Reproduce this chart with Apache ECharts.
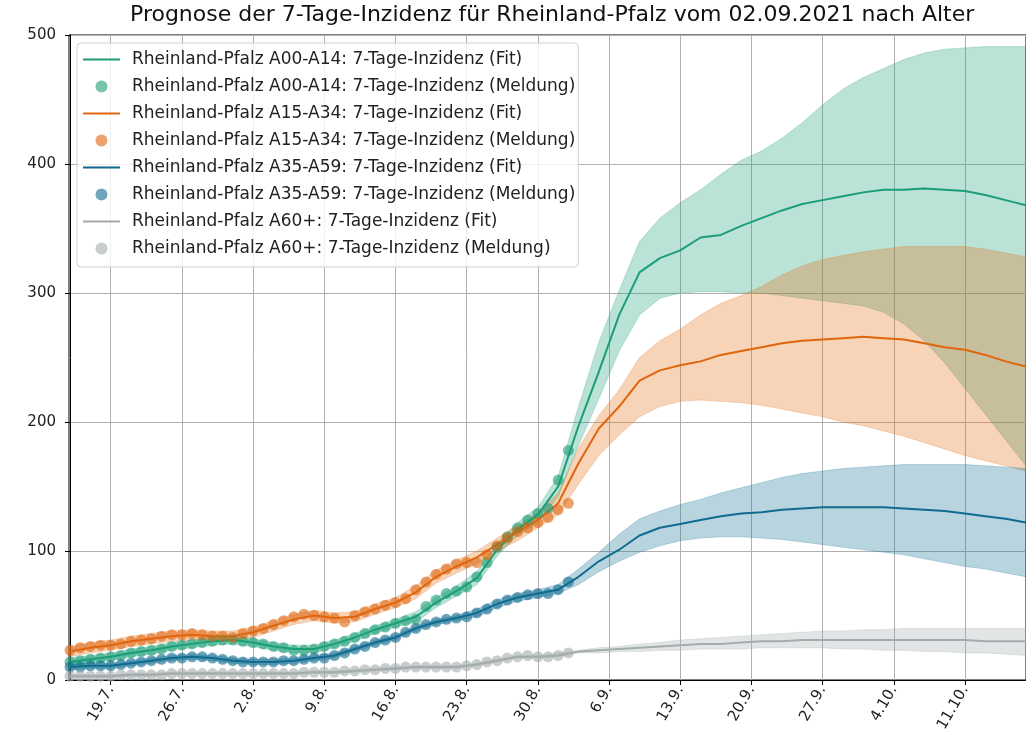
<!DOCTYPE html>
<html>
<head>
<meta charset="utf-8">
<title>Prognose 7-Tage-Inzidenz Rheinland-Pfalz</title>
<script src="https://cdn.jsdelivr.net/npm/echarts@6/dist/echarts.min.js"></script>
<style>
  html, body { margin: 0; padding: 0; background: #fff; }
  #main { width: 1026px; height: 752px; }
</style>
</head>
<body>
<div id="main"></div>
<script>
// x = Tage seit 15.7.2021
var tickDays = [4, 11, 18, 25, 32, 39, 46, 53, 60, 67, 74, 81, 88];
var tickLabels = ['19.7.', '26.7.', '2.8.', '9.8.', '16.8.', '23.8.', '30.8.', '6.9.', '13.9.', '20.9.', '27.9.', '4.10.', '11.10.'];

// Meldetage (15.7. - 2.9.)
var obsDays = [0,1,2,3,4,5,6,7,8,9,10,11,12,13,14,15,16,17,18,19,20,21,22,23,24,25,26,27,28,29,30,31,32,33,34,35,36,37,38,39,40,41,42,43,44,45,46,47,48,49];
// Fit / Prognose
var fitDays = [0,2,4,6,8,10,12,14,16,18,20,22,24,26,28,30,32,34,36,38,40,42,44,46,48,50,52,54,56,58,60,62,64,66,68,70,72,74,76,78,80,82,84,86,88,90,92,94];

// A00-A14
var a00Obs = [14,15,16,17,18,19,21,22,23,24,26,27,28,29,30,31,31,30,29,28,26,25,23,23,24,26,28,30,33,36,39,41,44,46,47,57,62,67,69,72,80,91,103,111,118,124,129,133,155,178];
var a00Fit = [14,16,18,21,23,26,28,30,31,29,26,24,24,28,33,39,44,49,60,69,79,101,117,128,150,197,239,283,316,327,333,343,345,352,358,364,369,372,375,378,380,380,381,380,379,376,372,368];
var a00Hi  = [17,19,21,24,26,29,31,33,34,32,29,27,27,31,36,42,47,53,64,73,84,106,122,134,158,212,262,302,340,358,370,380,392,403,410,420,432,446,458,467,474,481,486,489,490,491,491,491];
var a00Lo  = [11,13,15,18,20,23,25,27,28,26,23,21,21,25,30,36,41,45,56,65,74,96,112,122,142,182,218,255,283,296,300,301,301,300,300,298,296,294,292,290,285,276,263,246,226,206,186,166];

// A15-A34
var a15Obs = [23,25,26,27,27,28,30,31,32,34,35,35,36,35,34,34,33,36,38,40,43,46,49,51,50,49,48,45,50,53,55,58,60,63,70,76,82,86,90,91,91,97,104,110,115,118,122,126,132,137];
var a15Fit = [22,25,27,30,32,34,35,34,34,37,42,47,50,48,49,55,60,68,80,88,95,105,115,124,137,168,195,212,232,240,244,247,252,255,258,261,263,264,265,266,265,264,261,258,256,252,247,243];
var a15Hi  = [26,29,31,34,36,38,39,38,38,41,46,51,54,52,53,59,64,73,85,93,100,110,120,130,145,180,205,225,250,263,272,283,292,298,305,314,321,326,329,332,334,336,336,336,336,334,331,328];
var a15Lo  = [18,21,23,26,28,30,31,30,30,33,38,43,46,44,45,51,56,63,75,83,90,100,108,118,128,152,174,190,204,212,216,217,216,215,213,210,207,204,200,197,193,189,184,179,174,170,166,162];

// A35-A59
var a35Obs = [10,10,11,11,11,12,13,14,15,16,17,17,18,18,17,16,15,14,14,14,14,15,15,16,17,17,19,21,24,26,29,31,33,37,40,43,45,47,48,49,52,55,59,62,64,66,67,67,70,76];
var a35Fit = [10,11,11,13,15,17,18,17,15,14,14,15,17,19,24,29,33,40,45,48,52,59,64,67,70,80,92,101,112,118,121,124,127,129,130,132,133,134,134,134,134,133,132,131,129,127,125,122];
var a35Hi  = [12,13,13,15,17,19,20,19,17,16,16,17,19,21,26,31,35,42,47,50,55,62,67,70,74,86,99,113,125,131,136,140,145,149,153,157,160,162,164,165,166,167,167,167,167,166,165,164];
var a35Lo  = [8,9,9,11,13,15,16,15,13,12,12,13,15,17,22,27,31,38,43,46,49,56,61,64,67,74,84,92,99,104,108,110,111,111,110,109,107,105,103,101,99,97,94,91,88,86,83,80];

// A60+
var a60Obs = [3,3,3,3,3,4,4,4,4,4,5,5,5,5,5,5,5,5,5,5,5,5,5,6,6,6,6,7,7,8,8,9,9,10,10,10,10,10,10,11,12,14,15,17,18,19,18,18,19,21];
var a60Fit = [3,3,3,4,4,5,5,5,5,5,5,5,6,6,7,8,9,10,10,10,12,15,18,18,19,22,23,24,25,26,27,28,28,29,30,30,31,31,31,31,31,31,31,31,31,30,30,30];
var a60Hi  = [4,4,4,5,5,6,6,6,6,6,6,6,7,7,8,9,10,11,11,11,13,16,19,19,21,23,25,26,28,29,31,32,33,34,35,36,37,38,38,39,39,40,40,40,40,40,40,40];
var a60Lo  = [2,2,2,3,3,4,4,4,4,4,4,4,5,5,6,7,8,9,9,9,11,14,17,17,18,21,21,22,22,23,23,24,24,24,25,25,25,25,24,24,23,23,22,22,21,21,20,19];

var groups = [
  { label: 'Rheinland-Pfalz A00-A14', color: '#1b9e77', band: '27,158,119', obs: a00Obs, fit: a00Fit, hi: a00Hi, lo: a00Lo },
  { label: 'Rheinland-Pfalz A15-A34', color: '#e0650d', band: '230,110,20', obs: a15Obs, fit: a15Fit, hi: a15Hi, lo: a15Lo },
  { label: 'Rheinland-Pfalz A35-A59', color: '#0f6b8f', band: '20,115,150', obs: a35Obs, fit: a35Fit, hi: a35Hi, lo: a35Lo },
  { label: 'Rheinland-Pfalz A60+',    color: '#a3abac', band: '160,168,168', obs: a60Obs, fit: a60Fit, hi: a60Hi, lo: a60Lo }
];

function pairs(xs, ys) {
  return xs.map(function (x, i) { return [x, ys[i]]; });
}

var lineIcon = 'path://M0,0H37V2H0Z';
var series = [];
var legendData = [];
groups.forEach(function (g) {
  series.push({
    type: 'custom',
    silent: true,
    clip: true,
    z: 1,
    data: [[0, 0]],
    renderItem: function (params, api) {
      var pts = [];
      for (var i = 0; i < fitDays.length; i++) pts.push(api.coord([fitDays[i], g.hi[i]]));
      for (var j = fitDays.length - 1; j >= 0; j--) pts.push(api.coord([fitDays[j], g.lo[j]]));
      return {
        type: 'polygon',
        shape: { points: pts },
        style: { fill: 'rgba(' + g.band + ',0.3)', stroke: 'rgba(' + g.band + ',0.25)', lineWidth: 1 }
      };
    }
  });
  var fitName = g.label + ': 7-Tage-Inzidenz (Fit)';
  var obsName = g.label + ': 7-Tage-Inzidenz (Meldung)';
  series.push({
    name: fitName,
    type: 'line',
    z: 2,
    symbol: 'none',
    data: pairs(fitDays, g.fit),
    lineStyle: { color: g.color, width: 2 },
    itemStyle: { color: g.color }
  });
  series.push({
    name: obsName,
    type: 'scatter',
    z: 3,
    symbolSize: 11,
    data: pairs(obsDays, g.obs),
    itemStyle: { color: g.color, opacity: 0.6 }
  });
  legendData.push({ name: fitName, icon: lineIcon }, { name: obsName, icon: 'circle' });
});

var chart = echarts.init(document.getElementById('main'));
chart.setOption({
  animation: false,
  backgroundColor: '#fff',
  textStyle: { fontFamily: 'DejaVu Sans' },
  title: {
    text: 'Prognose der 7-Tage-Inzidenz für Rheinland-Pfalz vom 02.09.2021 nach Alter',
    left: 130,
    top: 4,
    padding: 0,
    textStyle: { fontSize: 22, fontWeight: 'normal', color: '#111', fontFamily: 'DejaVu Sans' }
  },
  grid: {
    left: 69, right: -2, top: 35, bottom: 72,
    show: true, borderColor: '#000', borderWidth: 1, backgroundColor: 'transparent'
  },
  legend: {
    data: legendData,
    orient: 'vertical',
    left: 77,
    top: 43,
    itemWidth: 37,
    itemHeight: 12,
    itemGap: 10,
    padding: [8, 3, 10, 6],
    backgroundColor: 'rgba(255,255,255,0.8)',
    borderColor: '#d0d0d0',
    borderWidth: 1,
    borderRadius: 4,
    selectedMode: false,
    textStyle: { fontSize: 17, color: '#222', fontFamily: 'DejaVu Sans', padding: [0, 0, 0, 7] }
  },
  xAxis: {
    type: 'value',
    min: -0.1,
    max: 94,
    axisLine: { lineStyle: { color: '#000' } },
    axisTick: { customValues: tickDays, length: 5, lineStyle: { color: '#000' } },
    axisLabel: {
      customValues: tickDays,
      rotate: 60,
      margin: 7,
      fontSize: 15,
      color: '#222',
      formatter: function (v) {
        var k = tickDays.indexOf(Math.round(v));
        return k >= 0 ? tickLabels[k] : '';
      }
    },
    splitLine: { show: true, lineStyle: { color: '#b0b0b0', width: 1 } }
  },
  yAxis: {
    type: 'value',
    min: 0,
    max: 500,
    interval: 100,
    axisLine: { show: true, lineStyle: { color: '#000' } },
    axisTick: { show: true, length: 5, lineStyle: { color: '#000' } },
    axisLabel: { fontSize: 15, color: '#222', margin: 13 },
    splitLine: { show: true, lineStyle: { color: '#b0b0b0', width: 1 } }
  },
  series: series
});
</script>
</body>
</html>
